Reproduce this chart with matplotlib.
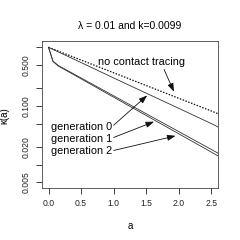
import matplotlib
matplotlib.use("Agg")
import matplotlib.pyplot as plt
from matplotlib.ticker import FixedLocator, NullLocator, FixedFormatter

plt.rcParams['font.family'] = ['Liberation Sans', 'DejaVu Sans']

# data
a_nct = [0.0, 0.5, 1.0, 1.5, 2.0, 2.5, 2.6]
k_nct = [1.0, 0.607, 0.368, 0.223, 0.135, 0.082, 0.074]

a_g0 = [0.0, 0.5, 1.0, 1.5, 2.0, 2.5, 2.6]
k_g0 = [1.0, 0.55, 0.30, 0.165, 0.091, 0.050, 0.044]

a_g = [0.0, 0.07, 0.15, 0.5, 1.0, 1.5, 2.0, 2.5, 2.6]
k_g1 = [1.0, 0.58, 0.49, 0.30, 0.149, 0.0736, 0.0365, 0.0181, 0.0157]
k_g2 = [1.0, 0.57, 0.48, 0.290, 0.141, 0.0687, 0.0335, 0.0163, 0.0141]

xticks = [0.0, 0.5, 1.0, 1.5, 2.0, 2.5]
xticklabels = ["0.0", "0.5", "1.0", "1.5", "2.0", "2.5"]
yticks = [1.0, 0.5, 0.2, 0.1, 0.05, 0.02, 0.01, 0.005]
yticklabels = ["", "0.500", "", "0.100", "", "0.020", "", "0.005"]

title = "λ = 0.01 and k=0.0099"

fig = plt.figure(figsize=(2.4, 2.4), dpi=100)
ax = fig.add_axes([0.175, 0.217, 0.733, 0.612])

lc = '#333333'
ax.plot(a_nct, k_nct, color='#111111', lw=0.9, linestyle=(0, (1.2, 1.2)))
ax.plot(a_g0, k_g0, color=lc, lw=0.6)
ax.plot(a_g, k_g1, color=lc, lw=0.6)
ax.plot(a_g, k_g2, color=lc, lw=0.6)

ax.set_yscale('log')
ax.set_xlim(-0.1, 2.6)
ax.set_ylim(0.0040, 1.28)

ax.xaxis.set_major_locator(FixedLocator(xticks))
ax.xaxis.set_major_formatter(FixedFormatter(xticklabels))
ax.xaxis.set_minor_locator(NullLocator())
ax.yaxis.set_major_locator(FixedLocator(yticks))
ax.yaxis.set_major_formatter(FixedFormatter(yticklabels))
ax.yaxis.set_minor_locator(NullLocator())

ax.tick_params(axis='both', direction='out', length=4, width=0.6,
               labelsize=6.2, colors='#222222', pad=4)
for lab in ax.get_yticklabels():
    lab.set_rotation(90)
    lab.set_va('center')
for s in ax.spines.values():
    s.set_linewidth(0.6)
    s.set_color('#444444')

ax.set_title(title, fontsize=7.5, pad=9)
ax.set_xlabel("a", fontsize=7, labelpad=9)
fig.text(0.02, 0.52, "κ(a)", rotation=90, fontsize=7, va='center', ha='center')

fs = 7.8
arrowprops = dict(arrowstyle='-|>,head_length=0.5,head_width=0.18', color='#111111',
                  lw=0.6, shrinkA=0, shrinkB=0)
ax.text(1.43, 0.56, "no contact tracing", fontsize=fs, ha='center', va='center')
ax.annotate("", xy=(1.925, 0.175), xytext=(1.773, 0.42), arrowprops=arrowprops)

ax.text(0.976, 0.0434, "generation 0", fontsize=fs, ha='right', va='center')
ax.annotate("", xy=(1.514, 0.151), xytext=(1.0, 0.0470), arrowprops=arrowprops)
ax.text(0.976, 0.0274, "generation 1", fontsize=fs, ha='right', va='center')
ax.annotate("", xy=(1.62, 0.054), xytext=(1.0, 0.0290), arrowprops=arrowprops)
ax.text(0.976, 0.0173, "generation 2", fontsize=fs, ha='right', va='center')
ax.annotate("", xy=(1.95, 0.0309), xytext=(1.0, 0.0174), arrowprops=arrowprops)

fig.savefig("out.png", dpi=100)
